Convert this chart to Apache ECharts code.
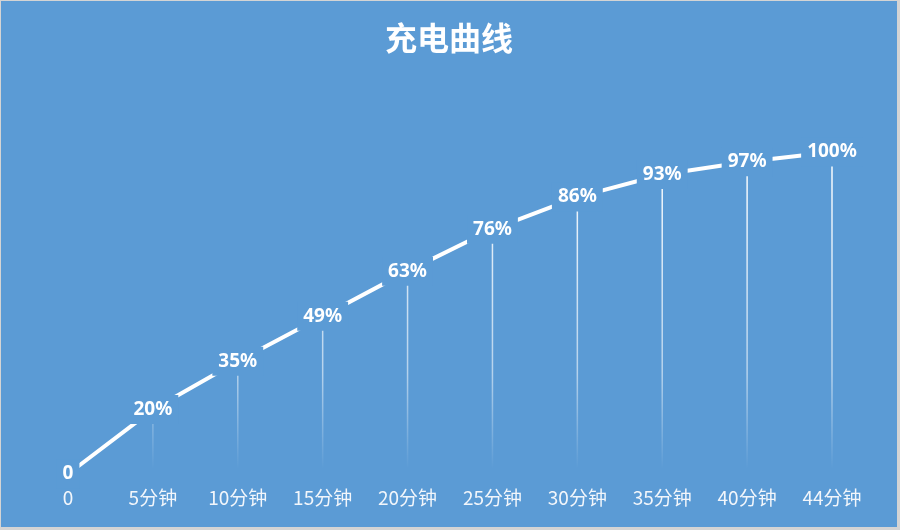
<!DOCTYPE html>
<html>
<head>
<meta charset="utf-8">
<script src="https://cdn.jsdelivr.net/npm/echarts@6/dist/echarts.min.js"></script>
<style>
html,body{margin:0;padding:0;background:#d4d4d4;width:900px;height:530px;overflow:hidden;}
#main{position:absolute;left:1px;top:1px;width:896px;height:526px;}
</style>
</head>
<body>
<div id="main"></div>
<script>
const categories = ['0','5分钟','10分钟','15分钟','20分钟','25分钟','30分钟','35分钟','40分钟','44分钟'];
const charge = [0,20,35,49,63,76,86,93,97,100];
const titleText = '充电曲线';

const BG = '#5B9BD5';
const chart = echarts.init(document.getElementById('main'));
chart.setOption({
  backgroundColor: BG,
  animation: false,
  title: {
    text: titleText, left: 'center', top: 16,
    textStyle: {color:'#fff', fontSize:32, fontWeight:'bold', fontFamily:'"Noto Sans CJK SC", sans-serif'}
  },
  grid: {left:67, right:65, top:151, bottom:53},
  xAxis: {
    type:'category', data:categories, boundaryGap:false,
    axisLine:{show:false}, axisTick:{show:false},
    axisLabel:{color:'#f2f6fb', fontSize:19, margin:14, fontFamily:'"Noto Sans CJK SC", sans-serif'}
  },
  yAxis: {type:'value', min:0, max:100, show:false, splitLine:{show:false}},
  series: [
    {
      type:'bar', data:charge, barWidth:1.5, z:1, silent:true,
      itemStyle:{color:new echarts.graphic.LinearGradient(0,150,0,468,[
        {offset:0,color:'rgba(255,255,255,1)'},
        {offset:0.7,color:'rgba(255,255,255,0.55)'},
        {offset:1,color:'rgba(255,255,255,0)'}
      ], true)}
    },
    {
      type:'line', data:charge, z:3,
      symbol:'circle', symbolSize:2, showSymbol:true,
      itemStyle:{color:'#fff'},
      lineStyle:{color:'#fff', width:4},
      label:{
        show:true, position:'inside', color:'#fff', fontSize:19, fontWeight:'bold',
        fontFamily:'"Noto Sans", "Noto Sans CJK SC", sans-serif',
        backgroundColor:BG, padding:[5,6],
        formatter: p => p.dataIndex === 0 ? '0' : p.value + '%'
      }
    }
  ]
});
</script>
</body>
</html>
